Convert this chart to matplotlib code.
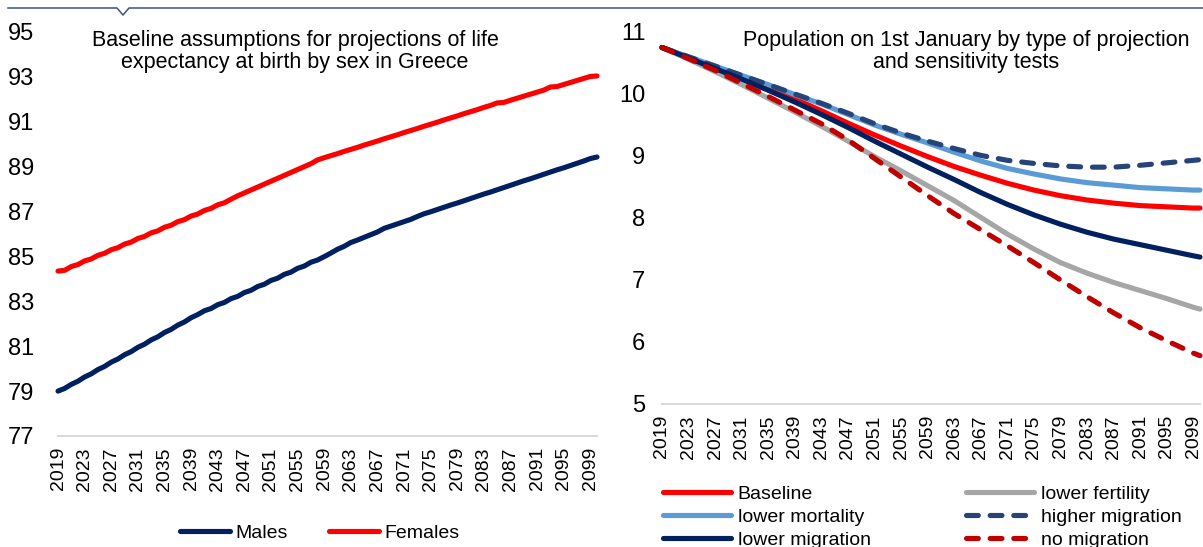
import numpy as np
import matplotlib
matplotlib.use("Agg")
import matplotlib.pyplot as plt
from matplotlib.lines import Line2D

plt.rcParams['font.family'] = ['Liberation Sans', 'DejaVu Sans']

# ---------------- data ----------------
# Life expectancy at birth, annual, 2019-2100
le_years = list(range(2019, 2101))
males = [
    79.00, 79.12, 79.30, 79.44, 79.63, 79.77, 79.96, 80.10, 80.29, 80.43,
    80.62, 80.76, 80.95, 81.09, 81.28, 81.42, 81.61, 81.75, 81.94, 82.08,
    82.27, 82.41, 82.58, 82.68, 82.85, 82.95, 83.12, 83.22, 83.39, 83.49,
    83.66, 83.76, 83.93, 84.03, 84.20, 84.30, 84.47, 84.57, 84.74, 84.84,
    84.99, 85.15, 85.32, 85.45, 85.62, 85.73, 85.85, 85.97, 86.09, 86.25,
    86.35, 86.45, 86.55, 86.65, 86.78, 86.90, 86.99, 87.09, 87.19, 87.29,
    87.38, 87.48, 87.58, 87.68, 87.78, 87.87, 87.97, 88.07, 88.17, 88.27,
    88.37, 88.46, 88.56, 88.66, 88.76, 88.86, 88.95, 89.05, 89.15, 89.25,
    89.36, 89.43,
]
females = [
    84.35, 84.38, 84.55, 84.64, 84.80, 84.89, 85.05, 85.14, 85.30, 85.39,
    85.55, 85.64, 85.80, 85.89, 86.05, 86.14, 86.30, 86.39, 86.55, 86.64,
    86.80, 86.89, 87.05, 87.14, 87.30, 87.39, 87.55, 87.70, 87.83, 87.96,
    88.09, 88.22, 88.35, 88.48, 88.61, 88.74, 88.87, 89.00, 89.13, 89.30,
    89.40, 89.49, 89.58, 89.68, 89.77, 89.86, 89.96, 90.05, 90.14, 90.24,
    90.33, 90.42, 90.52, 90.61, 90.70, 90.80, 90.89, 90.98, 91.08, 91.17,
    91.26, 91.36, 91.45, 91.54, 91.64, 91.73, 91.84, 91.86, 91.96, 92.05,
    92.14, 92.23, 92.32, 92.41, 92.55, 92.57, 92.66, 92.75, 92.84, 92.93,
    93.02, 93.04,
]

# Population on 1st January (millions), by projection variant
pop_years = [2019, 2023, 2027, 2031, 2035, 2039, 2043, 2047, 2051, 2055, 2059,
             2063, 2067, 2071, 2075, 2079, 2083, 2087, 2091, 2095, 2099, 2100]
baseline = [10.75, 10.59, 10.43, 10.27, 10.10, 9.92, 9.73, 9.53, 9.34, 9.16, 8.99,
            8.83, 8.69, 8.56, 8.45, 8.36, 8.29, 8.24, 8.20, 8.18, 8.16, 8.16]
lower_fertility = [10.75, 10.56, 10.36, 10.15, 9.93, 9.71, 9.48, 9.24, 8.99, 8.76, 8.52,
                   8.28, 8.01, 7.74, 7.50, 7.28, 7.11, 6.96, 6.83, 6.70, 6.56, 6.53]
lower_mortality = [10.75, 10.60, 10.45, 10.30, 10.15, 9.99, 9.84, 9.67, 9.50, 9.35, 9.21,
                   9.06, 8.92, 8.80, 8.71, 8.63, 8.57, 8.53, 8.49, 8.47, 8.45, 8.45]
higher_migration = [10.75, 10.60, 10.45, 10.30, 10.15, 10.00, 9.85, 9.69, 9.52, 9.37, 9.24,
                    9.12, 9.01, 8.93, 8.88, 8.84, 8.82, 8.82, 8.85, 8.89, 8.93, 8.94]
lower_migration = [10.75, 10.58, 10.41, 10.24, 10.06, 9.87, 9.67, 9.46, 9.24, 9.03, 8.82,
                   8.62, 8.41, 8.22, 8.05, 7.90, 7.77, 7.66, 7.57, 7.48, 7.39, 7.37]
no_migration = [10.75, 10.57, 10.38, 10.17, 9.96, 9.74, 9.52, 9.26, 8.96, 8.66, 8.36,
                8.07, 7.81, 7.55, 7.28, 7.00, 6.73, 6.47, 6.23, 6.02, 5.82, 5.78]

tick_years = list(range(2019, 2100, 4))
left_yticks = [77, 79, 81, 83, 85, 87, 89, 91, 93, 95]
right_yticks = [5, 6, 7, 8, 9, 10, 11]

# ---------------- figure ----------------
W, H = 1203, 547
fig = plt.figure(figsize=(W / 100, H / 100), dpi=100)


def frac_box(x0, y0, x1, y1):
    """pixel box (top-left origin) -> figure fraction rect"""
    return [x0 / W, 1 - y1 / H, (x1 - x0) / W, (y1 - y0) / H]


NAVY = '#002060'
RED = '#FF0000'
GRID = '#D9D9D9'
LW = 3.7


def style_axes(ax, ypad):
    for s in ['left', 'right', 'top']:
        ax.spines[s].set_visible(False)
    ax.spines['bottom'].set_color(GRID)
    ax.spines['bottom'].set_linewidth(1.5)
    ax.tick_params(axis='y', length=0, labelsize=17, pad=ypad)
    ax.tick_params(axis='x', length=0, labelsize=14, pad=8, rotation=90)
    ax.set_xticks(tick_years)
    ax.set_xticklabels([str(y) for y in tick_years])
    ax.set_xlim(2019, 2100)


# Left panel: life expectancy
axL = fig.add_axes(frac_box(58, 32, 597, 436))
style_axes(axL, 17)
axL.plot(le_years, males, color=NAVY, lw=LW, solid_capstyle='round',
         solid_joinstyle='round', label='Males', clip_on=False)
axL.plot(le_years, females, color=RED, lw=LW, solid_capstyle='round',
         solid_joinstyle='round', label='Females', clip_on=False)
axL.set_ylim(77, 95)
axL.set_yticks(left_yticks)
axL.text(0.44, 1.005, 'Baseline assumptions for projections of life\nexpectancy at birth by sex in Greece',
         transform=axL.transAxes, ha='center', va='top', fontsize=15.5, linespacing=1.05)

legL = axL.legend(loc='center', bbox_to_anchor=(320 / W, 1 - 533 / H),
                  bbox_transform=fig.transFigure, ncol=2, frameon=False,
                  fontsize=14, handlelength=2.55, handletextpad=0.3,
                  columnspacing=2.1)

# Right panel: population projections
axR = fig.add_axes(frac_box(662, 32, 1200, 404))
style_axes(axR, 12)
series = [
    ('Baseline', baseline, '#FF0000', '-'),
    ('lower fertility', lower_fertility, '#A6A6A6', '-'),
    ('lower mortality', lower_mortality, '#5B9BD5', '-'),
    ('higher migration', higher_migration, '#264478', '--'),
    ('lower migration', lower_migration, NAVY, '-'),
    ('no migration', no_migration, '#C00000', '--'),
]
handles = {}
for z, (name, vals, col, ls) in enumerate(series):
    kw = dict(color=col, lw=LW, label=name, zorder=2 + z, clip_on=False,
              solid_capstyle='round', solid_joinstyle='round',
              dash_capstyle='round')
    if ls == '--':
        kw['dashes'] = (2.3, 2.3)
    line, = axR.plot(pop_years, vals, **kw)
    handles[name] = line
axR.set_ylim(5, 11)
axR.set_yticks(right_yticks)
axR.text(0.565, 1.005, 'Population on 1st January by type of projection\nand sensitivity tests',
         transform=axR.transAxes, ha='center', va='top', fontsize=15.5, linespacing=1.05)

leg_kw = dict(frameon=False, fontsize=14, handlelength=3.5, handletextpad=0.35,
              labelspacing=0.28, borderpad=0, borderaxespad=0,
              bbox_transform=fig.transFigure, loc='upper left')
col1 = ['Baseline', 'lower mortality', 'lower migration']
col2 = ['lower fertility', 'higher migration', 'no migration']
leg1 = axR.legend([handles[n] for n in col1], col1,
                  bbox_to_anchor=(663 / W, 1 - 485 / H), **leg_kw)
axR.add_artist(leg1)
leg2 = axR.legend([handles[n] for n in col2], col2,
                  bbox_to_anchor=(966 / W, 1 - 485 / H), **leg_kw)

# Top rule with small notch
ytop = 8
pts_x = [8, 117, 123, 129, W]
pts_y = [ytop, ytop, ytop + 7, ytop, ytop]
fig.add_artist(Line2D([x / W for x in pts_x], [1 - y / H for y in pts_y],
                      transform=fig.transFigure, color='#3A5383', lw=1.1))

fig.savefig('out.png', dpi=100)
